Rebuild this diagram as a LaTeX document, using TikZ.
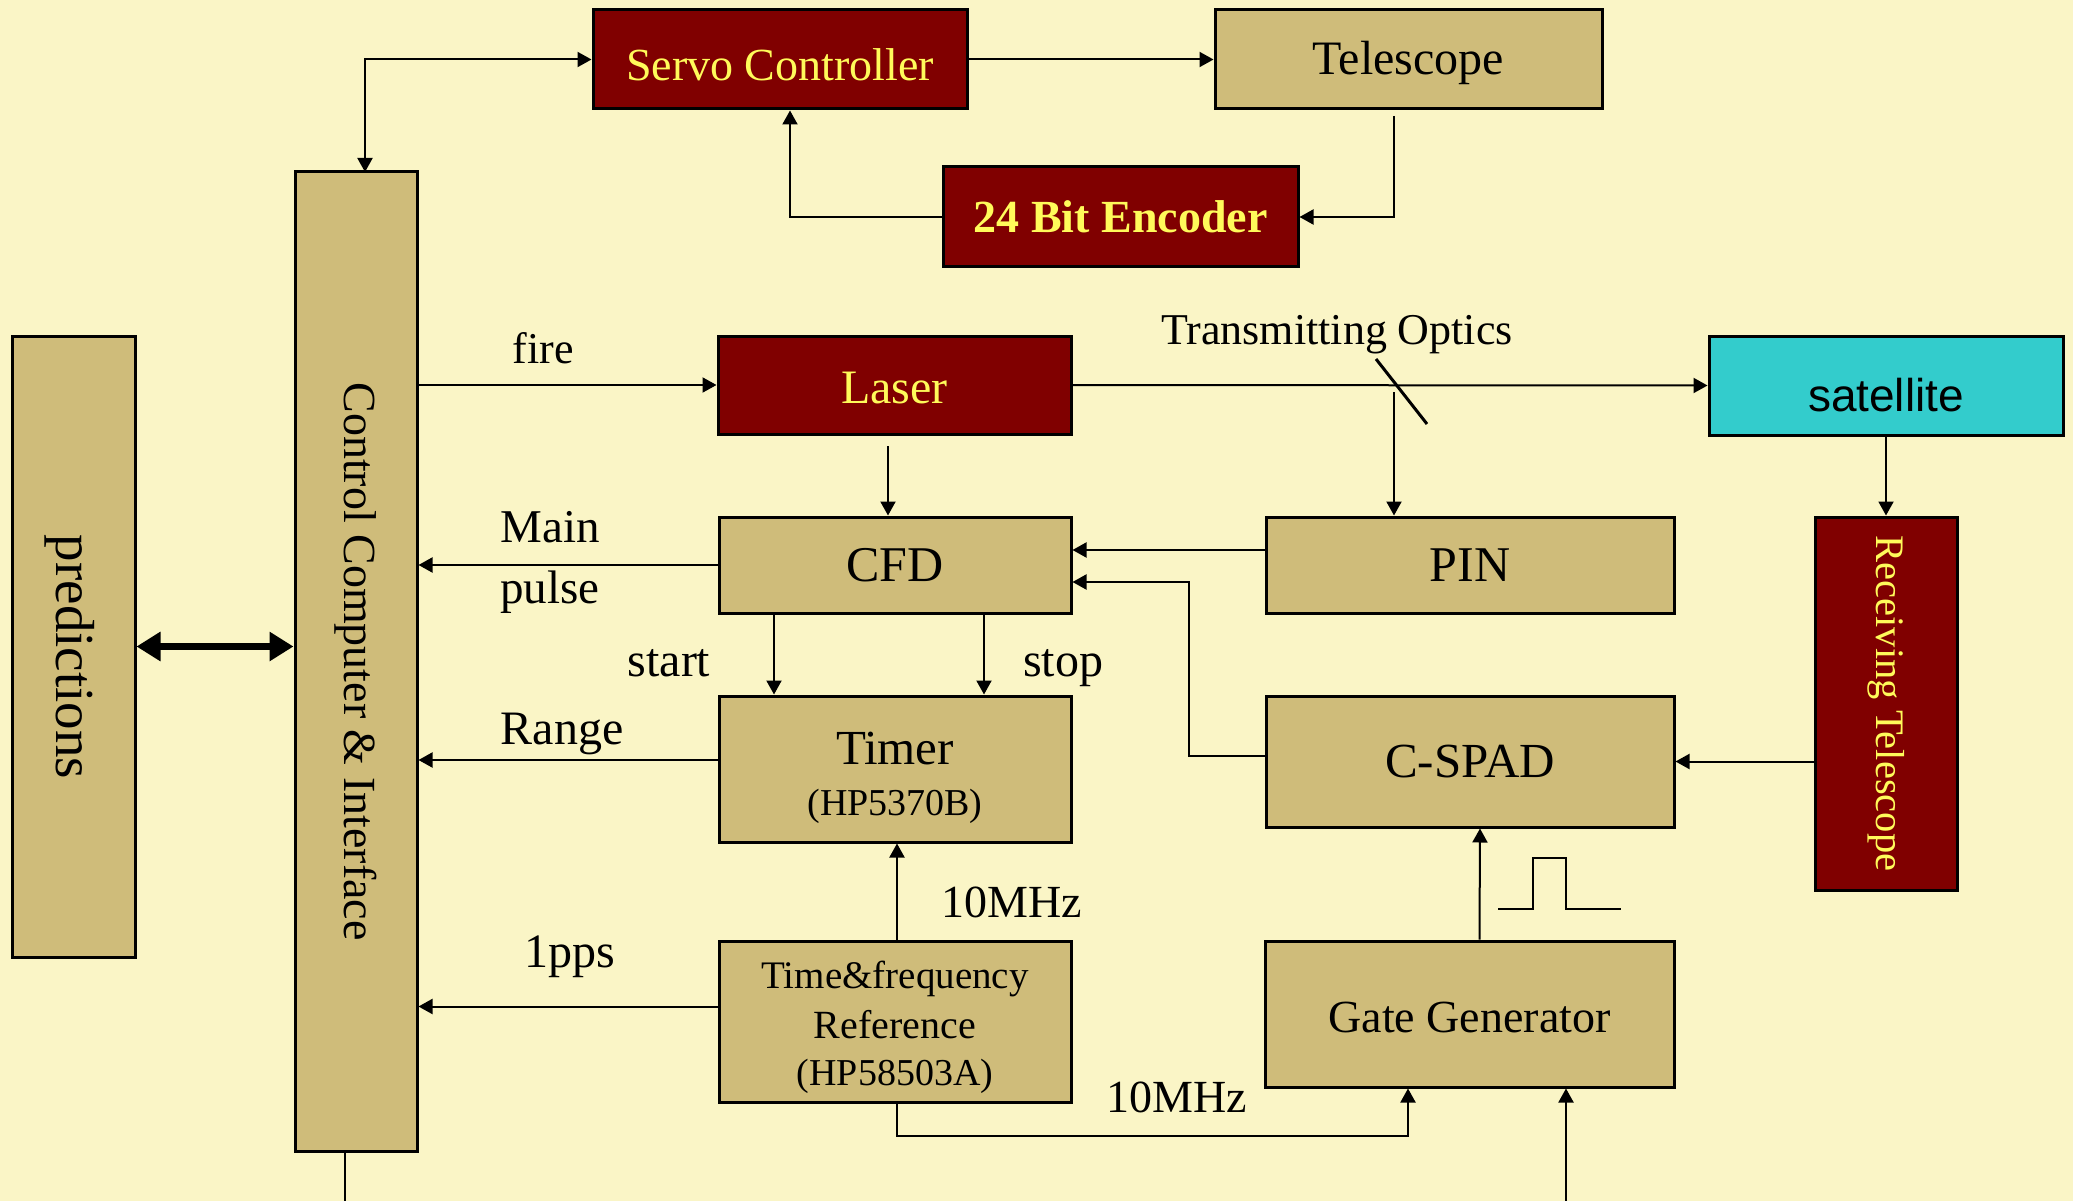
\documentclass[tikz,border=0pt]{standalone}
\usepackage{fontspec}
\usepackage{graphicx}
\setmainfont{Liberation Serif}
\newfontfamily\sansf{Liberation Sans}
\usetikzlibrary{arrows.meta,calc}
\definecolor{bgc}{RGB}{250,245,198}
\definecolor{tanc}{RGB}{207,188,122}
\definecolor{redc}{RGB}{128,0,0}
\definecolor{yelc}{RGB}{255,250,90}
\definecolor{cyanc}{RGB}{51,204,204}
\newcommand\fs[1]{\fontsize{#1}{#1}\selectfont}
\begin{document}
\begin{tikzpicture}[x=1pt,y=-1pt,
  tanbox/.style={draw=black,line width=3pt,fill=tanc,inner sep=0pt},
  redbox/.style={draw=black,line width=3pt,fill=redc,text=yelc,inner sep=0pt},
  cyanbox/.style={draw=black,line width=3pt,fill=cyanc,inner sep=0pt},
  conn/.style={line width=2pt,-{Triangle[length=14pt,width=15pt]}},
  plain/.style={line width=2pt},
  lbl/.style={inner sep=0pt,font=\fs{46}},
  ylbl/.style={inner sep=0pt,text=yelc}
]
\useasboundingbox (0,0) rectangle (2073,1201);
\fill[bgc] (0,0) rectangle (2073,1201);

% boxes
\node[redbox,minimum width=374pt,minimum height=99pt] (servo) at (780,59.5) {};
\node[ylbl,font=\fs{46}] (servot) at (780,65) {Servo Controller};
\node[tanbox,minimum width=387pt,minimum height=99pt] (tel) at (1408.5,59.5) {};
\node[lbl,font=\fs{48}] (telt) at (1408.5,63) {Telescope};
\node[redbox,minimum width=355pt,minimum height=100pt,font=\fs{46}\bfseries] (enc) at (1120.5,217) {24 Bit Encoder};
\node[tanbox,minimum width=122pt,minimum height=979pt] (ctrl) at (356,661.5) {\rotatebox{-90}{\fs{46}Control Computer \& Interface}};
\node[tanbox,minimum width=123pt,minimum height=621pt] (pred) at (73.5,646.5) {};
\node[lbl] (predt) at (70,657) {\rotatebox{-90}{\fs{55}predictions}};
\node[redbox,minimum width=353pt,minimum height=98pt] (laser) at (894.5,385) {};
\node[ylbl,font=\fs{48}] (lasert) at (894.5,388) {Laser};
\node[cyanbox,minimum width=354pt,minimum height=99pt] (sat) at (1886,385.5) {};
\node[lbl,font=\sansf\fs{46}] (satt) at (1886,395) {satellite};
\node[tanbox,minimum width=352pt,minimum height=96pt,font=\fs{50}] (cfd) at (895,565) {CFD};
\node[tanbox,minimum width=408pt,minimum height=96pt,font=\fs{50}] (pin) at (1470,565) {PIN};
\node[redbox,minimum width=142pt,minimum height=373pt] (recv) at (1886,703.5) {\rotatebox{-90}{\fs{40.5}Receiving Telescope}};
\node[tanbox,minimum width=352pt,minimum height=146pt] (timer) at (895,769) {};
\node[lbl,font=\fs{49}] (timert) at (895,749) {Timer};
\node[lbl,font=\fs{38}] (timerm) at (895,806) {(HP5370B)};
\node[tanbox,minimum width=408pt,minimum height=131pt,font=\fs{49}] (cspad) at (1470,761.5) {C-SPAD};
\node[tanbox,minimum width=352pt,minimum height=161pt] (tf) at (895,1021.5) {};
\node[lbl,font=\fs{39}] (tf1) at (895,979) {Time\&frequency};
\node[lbl,font=\fs{40}] (tf2) at (895,1025) {Reference};
\node[lbl,font=\fs{38}] (tf3) at (895,1076) {(HP58503A)};
\node[tanbox,minimum width=409pt,minimum height=146pt] (gg) at (1469.5,1014) {};
\node[lbl,font=\fs{46}] (ggt) at (1469.5,1017) {Gate Generator};

% labels
\node[lbl,font=\fs{44}] (lfire) at (543,348) {fire};
\node[lbl,font=\fs{47}] (lmain) at (550,527) {Main};
\node[lbl,font=\fs{47}] (lpulse) at (550,592) {pulse};
\node[lbl,font=\fs{48}] (lstart) at (669,663) {start};
\node[lbl,font=\fs{48}] (lstop) at (1063,668) {stop};
\node[lbl,font=\fs{48}] (lrange) at (562,734) {Range};
\node[lbl,font=\fs{48}] (lpps) at (570,957) {1pps};
\node[lbl,font=\fs{46}] (l10a) at (1012,902) {10MHz};
\node[lbl,font=\fs{46}] (l10b) at (1177,1097) {10MHz};
\node[lbl,font=\fs{44}] (lopt) at (1337,335) {Transmitting Optics};

% coordinates
\coordinate (cup) at (365,172);
\coordinate (tg) at (1394,116);
\coordinate (ej) at (790,221);
\coordinate (mir) at (1394,392);
\coordinate (lg) at (888,446);
\coordinate (j) at (1189,582);
\coordinate (c10) at (1408,1136);
\coordinate (gin) at (1566,1201);
\coordinate (cout) at (345,1201);

% connectors
\draw[line width=2pt,{Triangle[length=14pt,width=15pt]}-{Triangle[length=14pt,width=15pt]}] (cup) |- (servo.west);
\draw[conn] (servo) -- (tel);
\draw[conn] (tg) |- (enc.east);
\draw[conn] (enc.west) -| (ej |- servo.south);
\draw[conn] (ctrl.east |- laser.west) -- (laser.west);
\draw[conn] (laser.east) -- (sat.west);
\draw[line width=3pt] (1376,359) -- (1427,424);
\draw[conn] (mir) -- (mir |- pin.north);
\draw[conn] (sat) -- (recv);
\draw[conn] (lg) -- (lg |- cfd.north);
\draw[conn] (cfd.west) -- (cfd.west -| ctrl.east);
\draw[conn] ([yshift=15pt]pin.west) -- ([yshift=15pt]pin.west -| cfd.east);
\draw[conn] ([yshift=6pt]cspad.west) -| (j) -- (j -| cfd.east);
\draw[conn] ([xshift=-121pt]cfd.south) -- ([xshift=-121pt]timer.north);
\draw[conn] ([xshift=89pt]cfd.south) -- ([xshift=89pt]timer.north);
\draw[conn] ([yshift=9pt]timer.west) -- ([yshift=9pt]timer.west -| ctrl.east);
\draw[conn] ([yshift=15pt]tf.west) -- ([yshift=15pt]tf.west -| ctrl.east);
\draw[conn] ([xshift=2pt]tf.north) -- ([xshift=2pt]timer.south);
\draw[conn] (recv.west |- cspad.east) -- (cspad.east);
\draw[conn] ([xshift=10pt]gg.north) -- ([xshift=10pt]cspad.south);
\draw[conn] ([xshift=2pt]tf.south) |- (c10) -- (c10 |- gg.south);
\draw[conn] (gin) -- (gin |- gg.south);
\draw[plain] (ctrl.south -| cout) -- (cout);
\draw[line width=7pt,{Triangle[length=24pt,width=28pt]}-{Triangle[length=24pt,width=28pt]}] (pred.east) -- (pred.east -| ctrl.west);

% gate pulse symbol
\draw[line width=2.5pt] (1498,909) -- (1533,909) -- (1533,858) -- (1566,858) -- (1566,909) -- (1621,909);
\end{tikzpicture}
\end{document}
